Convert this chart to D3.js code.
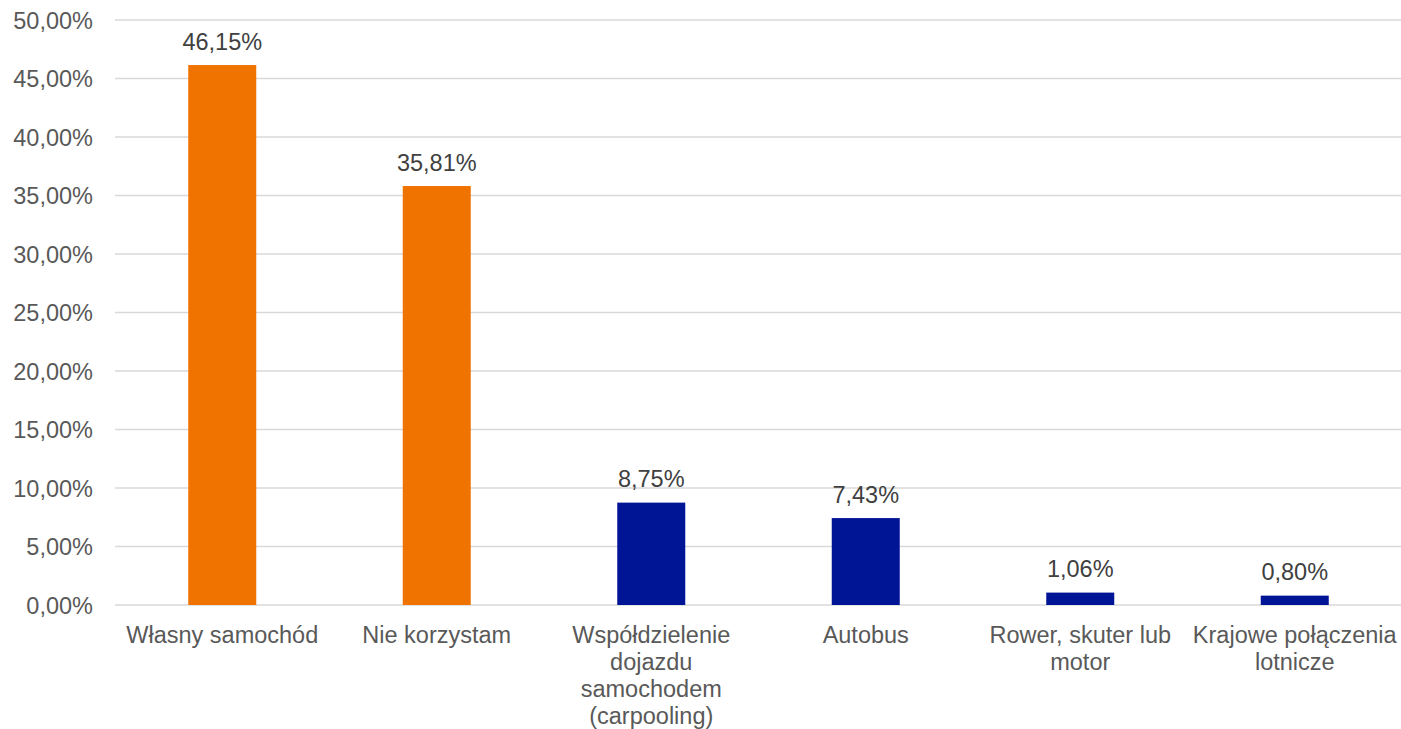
<!DOCTYPE html>
<html>
<head>
<meta charset="utf-8">
<script src="https://cdn.jsdelivr.net/npm/d3@7"></script>
<style>
  html, body { margin: 0; padding: 0; background: #fff; }
  svg { display: block; }
  text { font-family: "Liberation Sans", Arial, sans-serif; fill: #595959; }
</style>
</head>
<body>
<svg id="chart" width="1401" height="729"></svg>
<script>
const categories = [
  ["Własny samochód"],
  ["Nie korzystam"],
  ["Współdzielenie", "dojazdu", "samochodem", "(carpooling)"],
  ["Autobus"],
  ["Rower, skuter lub", "motor"],
  ["Krajowe połączenia", "lotnicze"]
];
const values = [46.15, 35.81, 8.75, 7.43, 1.06, 0.80];
const barColors = ["#F07300", "#F07300", "#001496", "#001496", "#001496", "#001496"];
const yTicks = [0, 5, 10, 15, 20, 25, 30, 35, 40, 45, 50];

(function () {
const svg = d3.select("#chart");
const mLeft = 115, mRight = 1402, mTop = 20, mBottom = 605;
const fs = 23.5;

const x = d3.scaleBand().domain(d3.range(categories.length)).range([mLeft, mRight]).padding(0);
const y = d3.scaleLinear().domain([0, 50]).range([mBottom, mTop]);
const fmt = v => v.toFixed(2).replace(".", ",") + "%";

// gridlines
svg.append("g").selectAll("line").data(yTicks).join("line")
  .attr("x1", mLeft).attr("x2", mRight)
  .attr("y1", d => y(d)).attr("y2", d => y(d))
  .attr("stroke", "#d9d9d9").attr("stroke-width", 1.3);

// y axis labels
const yAxis = d3.axisLeft(y).tickValues(yTicks).tickSize(0).tickPadding(22).tickFormat(fmt);
const gy = svg.append("g").attr("transform", `translate(${mLeft},0)`).call(yAxis);
gy.select(".domain").remove();
gy.selectAll("text").attr("font-size", fs).style("font-family", "Liberation Sans, Arial, sans-serif").attr("fill", "#595959").attr("dy", "0.35em");

// bars
const bw = x.bandwidth() * 0.317;
svg.append("g").selectAll("rect").data(values).join("rect")
  .attr("x", (d, i) => x(i) + x.bandwidth() / 2 - bw / 2)
  .attr("width", bw)
  .attr("y", d => y(d))
  .attr("height", d => y(0) - y(d))
  .attr("fill", (d, i) => barColors[i]);

// data labels
svg.append("g").selectAll("text").data(values).join("text")
  .attr("x", (d, i) => x(i) + x.bandwidth() / 2)
  .attr("y", d => y(d) - 15.5)
  .attr("text-anchor", "middle")
  .attr("font-size", fs)
  .style("fill", "#404040")
  .text(fmt);

// category labels
const cg = svg.append("g").selectAll("text").data(categories).join("text")
  .attr("x", (d, i) => x(i) + x.bandwidth() / 2)
  .attr("y", 643)
  .attr("text-anchor", "middle")
  .attr("font-size", fs);
cg.selectAll("tspan").data(d => d).join("tspan")
  .attr("x", function() { return d3.select(this.parentNode).attr("x"); })
  .attr("dy", (d, j) => j === 0 ? 0 : 27)
  .text(d => d);
})();
</script>
</body>
</html>
